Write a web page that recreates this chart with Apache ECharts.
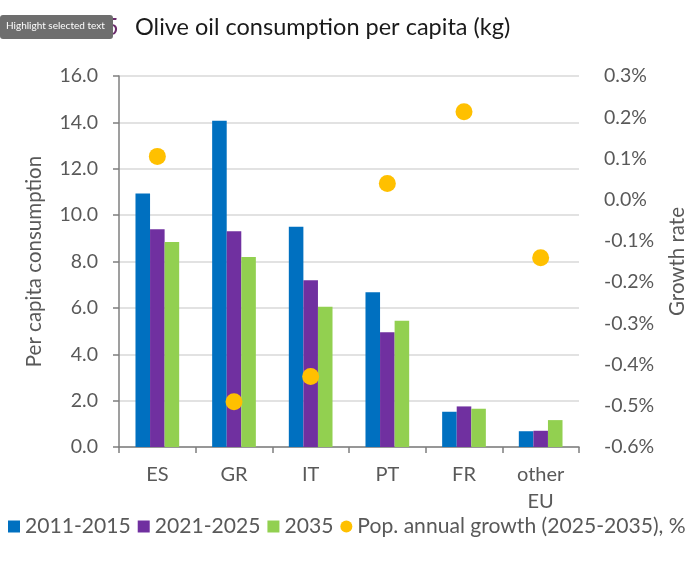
<!DOCTYPE html>
<html>
<head>
<meta charset="utf-8">
<script src="https://cdn.jsdelivr.net/npm/echarts@6/dist/echarts.min.js"></script>
<style>html,body{margin:0;padding:0;background:#fff}#c{width:696px;height:585px}</style>
</head>
<body>
<div id="c"></div>
<script>
const categories = ['ES', 'GR', 'IT', 'PT', 'FR', 'other\nEU'];
const cons2011_2015 = [10.93, 14.07, 9.50, 6.67, 1.52, 0.68];
const cons2021_2025 = [9.39, 9.30, 7.19, 4.95, 1.75, 0.70];
const cons2035 = [8.84, 8.19, 6.05, 5.45, 1.65, 1.16];
const popGrowth = [0.105, -0.490, -0.429, 0.039, 0.213, -0.141];
const seriesNames = ['2011-2015', '2021-2025', '2035', 'Pop. annual growth (2025-2035), %'];

const FONT = 'Lato';
const GRAY = '#595959';
const chart = echarts.init(document.getElementById('c'), null, {renderer: 'canvas'});
chart.setOption({
  animation: false,
  textStyle: {fontFamily: FONT},
  graphic: [
    {type: 'text', left: 0, top: 15, style: {text: 'GRAPH 3.5', fill: '#6B2C6B', font: '23.5px ' + FONT}},
    {type: 'text', left: 135, top: 15, style: {text: 'Olive oil consumption per capita (kg)', fill: '#1a1a1a', font: '23.5px ' + FONT}},
    {type: 'rect', left: 0, top: 15, shape: {width: 113, height: 24, r: 3}, style: {fill: '#6e6e6e'}},
    {type: 'text', left: 6, top: 21, style: {text: 'Highlight selected text', fill: '#fff', font: '10px ' + FONT}}
  ],
  grid: {left: 119, right: 116, top: 76, bottom: 138, containLabel: false},
  legend: {
    top: 516, left: 8, width: 760, padding: 0,
    itemWidth: 12, itemHeight: 12, itemGap: 7,
    textStyle: {color: GRAY, fontSize: 21.1, fontFamily: FONT},
    data: [
      {name: seriesNames[0], icon: 'rect'},
      {name: seriesNames[1], icon: 'rect'},
      {name: seriesNames[2], icon: 'rect'},
      {name: seriesNames[3], icon: 'circle'}
    ]
  },
  xAxis: {
    type: 'category', data: categories,
    axisLine: {lineStyle: {color: '#7f7f7f', width: 1.5}},
    axisTick: {show: true, length: 6, lineStyle: {color: '#7f7f7f', width: 1.5}},
    axisLabel: {color: GRAY, fontSize: 20, margin: 14, lineHeight: 27}
  },
  yAxis: [
    {
      type: 'value', min: 0, max: 16, interval: 2,
      name: 'Per capita consumption', nameLocation: 'middle', nameGap: 74, nameRotate: 90,
      nameTextStyle: {color: GRAY, fontSize: 20.5, fontFamily: FONT},
      axisLine: {show: true, lineStyle: {color: '#7f7f7f', width: 1.5}},
      axisTick: {show: true, length: 6, lineStyle: {color: '#7f7f7f', width: 1.5}},
      axisLabel: {color: GRAY, fontSize: 19.5, margin: 21, formatter: v => v.toFixed(1)},
      splitLine: {show: true, lineStyle: {color: '#d9d9d9', width: 1.5}}
    },
    {
      type: 'value', min: -0.6, max: 0.3, interval: 0.1, position: 'right',
      name: 'Growth rate', nameLocation: 'middle', nameGap: 88, nameRotate: 90,
      nameTextStyle: {color: GRAY, fontSize: 20.5, fontFamily: FONT},
      axisLine: {show: false}, axisTick: {show: false},
      axisLabel: {color: GRAY, fontSize: 19.5, margin: 25, formatter: v => (Math.round(v * 10) / 10).toFixed(1) + '%'},
      splitLine: {show: false}
    }
  ],
  series: [
    {name: seriesNames[0], type: 'bar', data: cons2011_2015, itemStyle: {color: '#0070C0'}, barGap: '0%', barCategoryGap: '43%'},
    {name: seriesNames[1], type: 'bar', data: cons2021_2025, itemStyle: {color: '#7030A0'}, barGap: '0%', barCategoryGap: '43%'},
    {name: seriesNames[2], type: 'bar', data: cons2035, itemStyle: {color: '#92D050'}, barGap: '0%', barCategoryGap: '43%'},
    {name: seriesNames[3], type: 'scatter', yAxisIndex: 1, data: popGrowth, symbolSize: 17, itemStyle: {color: '#FFC000', opacity: 1}, z: 5}
  ]
});
</script>
</body>
</html>
